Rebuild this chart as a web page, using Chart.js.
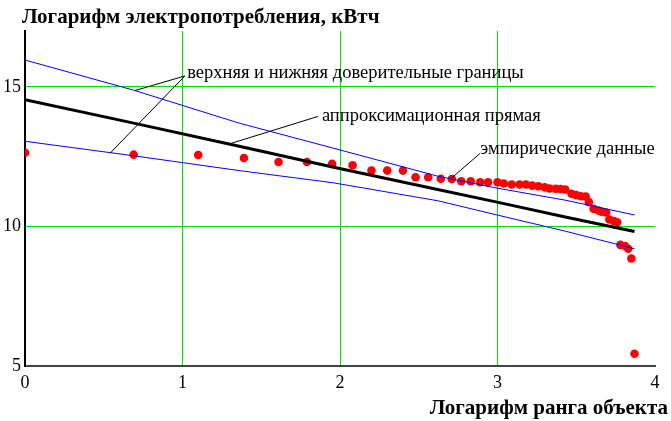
<!DOCTYPE html>
<html>
<head>
<meta charset="utf-8">
<script src="https://cdn.jsdelivr.net/npm/chart.js@4/dist/chart.umd.min.js"></script>
<style>
  html, body { margin: 0; padding: 0; background: #fff; }
  #wrap { width: 671px; height: 421px; position: relative; }
</style>
</head>
<body>
<div id="wrap"><canvas id="chart" width="671" height="421"></canvas></div>
<script>
// ln(rank) of each object and ln(consumption)
const rankLog = [0, 0.69, 1.10, 1.39, 1.61, 1.79, 1.95, 2.08, 2.20, 2.30,
    2.40, 2.48, 2.56, 2.64, 2.71, 2.77, 2.83, 2.89, 2.94, 3.00,
    3.04, 3.09, 3.14, 3.18, 3.22, 3.26, 3.30, 3.33, 3.37, 3.40,
    3.43, 3.47, 3.50, 3.53, 3.56, 3.58, 3.61, 3.64, 3.66, 3.69,
    3.71, 3.74, 3.76, 3.78, 3.81, 3.83, 3.85, 3.87];
const energyLog = [12.64, 12.57, 12.56, 12.45, 12.31, 12.31, 12.24, 12.19, 12.00, 12.00,
    12.00, 11.76, 11.76, 11.71, 11.70, 11.62, 11.62, 11.58, 11.58, 11.58,
    11.54, 11.50, 11.50, 11.50, 11.46, 11.44, 11.40, 11.36, 11.35, 11.34,
    11.32, 11.17, 11.12, 11.08, 11.07, 10.87, 10.63, 10.57, 10.53, 10.50,
    10.25, 10.19, 10.15, 9.34, 9.30, 9.20, 8.85, 5.44];

// regression line and confidence bounds
const fitX = [0, 0.69, 1.36, 1.96, 2.62, 2.99, 3.43, 3.87];
const fitLine = [14.54, 13.70, 12.87, 12.12, 11.32, 10.88, 10.34, 9.82];
const upperBound = [15.96, 14.88, 13.70, 12.80, 11.80, 11.38, 10.94, 10.41];
const lowerBound = [13.05, 12.53, 12.00, 11.56, 10.92, 10.42, 9.83, 9.20];

const xTicks = [0, 1, 2, 3, 4];
const yTicks = [5, 10, 15];

const FONT = "'Liberation Serif', 'DejaVu Serif', serif";
const GRID = '#00e000';

function pts(xs, ys) {
    return xs.map((x, i) => ({ x: x, y: ys[i] }));
}

// callout texts with leader lines, anchored in data units
const callouts = [
    { text: 'верхняя и нижняя доверительные границы', at: [1.03, 15.50],
      from: [1.015, 15.39], to: [[0.70, 14.87], [0.54, 12.62]] },
    { text: 'аппроксимационная прямая', at: [1.885, 13.96],
      from: [1.86, 13.94], to: [[1.30, 12.96]] },
    { text: 'эмпирические данные', at: [2.89, 12.76],
      from: [2.89, 12.62], to: [[2.71, 11.74]] }
];

const labelsPlugin = {
    id: 'labels',
    afterDatasetsDraw(chart) {
        const ctx = chart.ctx;
        const xs = chart.scales.x, ys = chart.scales.y;
        ctx.save();
        ctx.strokeStyle = '#000';
        ctx.lineWidth = 1;
        callouts.forEach(c => {
            const fx = xs.getPixelForValue(c.from[0]);
            const fy = ys.getPixelForValue(c.from[1]);
            c.to.forEach(t => {
                ctx.beginPath();
                ctx.moveTo(fx, fy);
                ctx.lineTo(xs.getPixelForValue(t[0]), ys.getPixelForValue(t[1]));
                ctx.stroke();
            });
            ctx.fillStyle = '#000';
            ctx.font = '18.5px ' + FONT;
            ctx.textAlign = 'left';
            ctx.textBaseline = 'middle';
            ctx.fillText(c.text, xs.getPixelForValue(c.at[0]), ys.getPixelForValue(c.at[1]));
        });

        // axis titles
        ctx.font = 'bold 21px ' + FONT;
        ctx.textBaseline = 'middle';
        ctx.textAlign = 'left';
        ctx.fillText('Логарифм электропотребления, кВтч', 22, 18);
        ctx.textAlign = 'right';
        ctx.fillText('Логарифм ранга объекта', 668, 409);
        ctx.restore();
    }
};

new Chart(document.getElementById('chart'), {
    type: 'scatter',
    data: {
        datasets: [
            {
                label: 'верхняя граница',
                data: pts(fitX, upperBound),
                showLine: true,
                borderColor: '#0000ff',
                borderWidth: 1,
                pointRadius: 0,
                order: 1
            },
            {
                label: 'нижняя граница',
                data: pts(fitX, lowerBound),
                showLine: true,
                borderColor: '#0000ff',
                borderWidth: 1,
                pointRadius: 0,
                order: 1
            },
            {
                label: 'аппроксимационная прямая',
                data: pts(fitX, fitLine),
                showLine: true,
                borderColor: '#000',
                borderWidth: 3,
                pointRadius: 0,
                order: 2
            },
            {
                label: 'эмпирические данные',
                data: pts(rankLog, energyLog),
                showLine: false,
                backgroundColor: '#ff0000',
                borderColor: '#ff0000',
                borderWidth: 0,
                pointRadius: 4.3,
                order: 3
            }
        ]
    },
    options: {
        responsive: false,
        animation: false,
        layout: { padding: { top: 31, right: 16, left: 0, bottom: 0 } },
        plugins: {
            legend: { display: false },
            tooltip: { enabled: false }
        },
        scales: {
            x: {
                type: 'linear',
                min: 0,
                max: 4,
                afterBuildTicks: s => { s.ticks = xTicks.map(v => ({ value: v })); },
                afterFit: s => { s.height = 55; },
                ticks: {
                    color: '#000',
                    padding: 6,
                    font: { family: FONT, size: 18 }
                },
                grid: {
                    drawTicks: false,
                    lineWidth: 1,
                    color: c => (c.tick && c.tick.value > 0 && c.tick.value < 4) ? GRID : 'rgba(0,0,0,0)'
                },
                border: { display: true, color: '#444', width: 2 }
            },
            y: {
                type: 'linear',
                min: 5,
                max: 17,
                afterBuildTicks: s => { s.ticks = yTicks.map(v => ({ value: v })); },
                afterFit: s => { s.width = 25; },
                ticks: {
                    color: '#000',
                    padding: 4,
                    font: { family: FONT, size: 18 }
                },
                grid: {
                    drawTicks: false,
                    lineWidth: 1,
                    color: c => (c.tick && c.tick.value > 5) ? GRID : 'rgba(0,0,0,0)'
                },
                border: { display: true, color: '#000', width: 2 }
            }
        }
    },
    plugins: [labelsPlugin]
});
</script>
</body>
</html>
